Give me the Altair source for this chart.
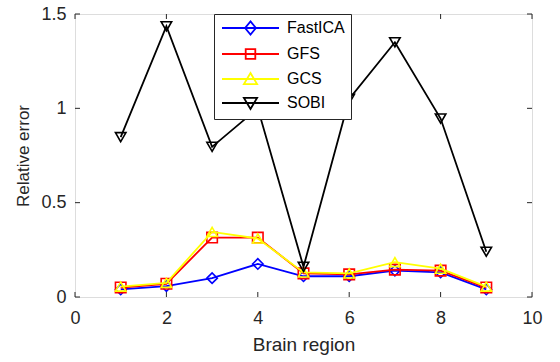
import altair as alt
import pandas as pd

regions = [1, 2, 3, 4, 5, 6, 7, 8, 9]
fastica = [0.04, 0.058, 0.10, 0.175, 0.11, 0.11, 0.14, 0.13, 0.04]
gfs = [0.05, 0.07, 0.315, 0.315, 0.125, 0.12, 0.145, 0.14, 0.05]
gcs = [0.055, 0.075, 0.345, 0.31, 0.13, 0.125, 0.185, 0.15, 0.055]
sobi = [0.847, 1.435, 0.796, 1.0, 0.16, 1.05, 1.35, 0.946, 0.24]

series_names = ["FastICA", "GFS", "GCS", "SOBI"]
series_values = [fastica, gfs, gcs, sobi]
colors = ["#0000FF", "#FF0000", "#FFFF00", "#000000"]
markers = ["diamond", "square", "triangle-up", "triangle-down"]
# legend glyphs: line sample + marker (unit = 6 px, symbol size 144)
legend_shapes = [
    "M-1,0H8.5M3.75,-1.1L4.65,0L3.75,1.1L2.85,0Z",
    "M-1,0H8.5M2.95,-0.8H4.55V0.8H2.95Z",
    "M-1,0H8.5M3.75,-1L4.85,0.85H2.65Z",
    "M-1,0H8.5M3.75,1L4.85,-0.85H2.65Z",
]
x_ticks = [0, 2, 4, 6, 8, 10]
y_ticks = [0, 0.5, 1, 1.5]

W, H = 457, 283
XMAX, YMAX = 10, 1.5
tick_px = 5
ty = tick_px * YMAX / H
tx = tick_px * XMAX / W

rows = []
for name, vals in zip(series_names, series_values):
    for r, v in zip(regions, vals):
        rows.append({"region": r, "value": v, "series": name})
df = pd.DataFrame(rows)

FONT = "Liberation Sans"
TXT = "#262626"
xs = alt.Scale(domain=[0, XMAX], nice=False, zero=False)
ys = alt.Scale(domain=[0, YMAX], nice=False, zero=False)
cs = alt.Scale(domain=series_names, range=colors)

xaxis = alt.Axis(values=x_ticks, ticks=False, domain=False, grid=False, labelPadding=12,
                 labelFontSize=18, labelFont=FONT, labelColor=TXT, title="Brain region",
                 titleFontSize=19, titleFont=FONT, titleFontWeight="normal", titleColor=TXT,
                 titlePadding=8, labelFlush=False, labelExpr="datum.value")
yaxis = alt.Axis(values=y_ticks, ticks=False, domain=False, grid=False, labelPadding=9,
                 labelFontSize=18, labelFont=FONT, labelColor=TXT, title="Relative error",
                 titleFontSize=17, titleFont=FONT, titleFontWeight="normal", titleColor=TXT,
                 titlePadding=8, labelFlush=False, labelExpr="datum.value")

base = alt.Chart(df)
layers = []
for name, col, mk in zip(series_names, colors, markers):
    sub = base.transform_filter(alt.datum.series == name)
    layers.append(sub.mark_line(strokeWidth=1.8, color=col).encode(
        x=alt.X("region:Q", scale=xs, axis=xaxis),
        y=alt.Y("value:Q", scale=ys, axis=yaxis),
    ))
    layers.append(sub.mark_point(filled=False, strokeWidth=1.6, size=110, opacity=1,
                                 color=col, shape=mk).encode(
        x=alt.X("region:Q", scale=xs),
        y=alt.Y("value:Q", scale=ys),
    ))

leg = alt.Legend(title=None, orient="none", legendX=139, legendY=0,
                 symbolSize=144, symbolStrokeWidth=1.8, symbolOpacity=1,
                 symbolFillColor="transparent",
                 labelFont=FONT, labelFontSize=16, labelColor="#000000",
                 labelOffset=51, rowPadding=6, padding=6,
                 strokeColor=TXT, fillColor="white")
legend_layer = base.transform_filter("false").mark_point(filled=False, strokeWidth=1.8).encode(
    x=alt.X("region:Q", scale=xs),
    y=alt.Y("value:Q", scale=ys),
    stroke=alt.Stroke("series:N", scale=cs, legend=leg),
    shape=alt.Shape("series:N", scale=alt.Scale(domain=series_names, range=legend_shapes), legend=leg),
)

bx = pd.DataFrame({"x": x_ticks})
by = pd.DataFrame({"y": y_ticks})
tick_b = alt.Chart(bx).mark_rule(color=TXT, strokeWidth=1).encode(
    x=alt.X("x:Q", scale=xs), y=alt.datum(0), y2=alt.datum(ty))
tick_t = alt.Chart(bx).mark_rule(color=TXT, strokeWidth=1).encode(
    x=alt.X("x:Q", scale=xs), y=alt.datum(YMAX - ty), y2=alt.datum(YMAX))
tick_l = alt.Chart(by).mark_rule(color=TXT, strokeWidth=1).encode(
    y=alt.Y("y:Q", scale=ys), x=alt.datum(0), x2=alt.datum(tx))
tick_r = alt.Chart(by).mark_rule(color=TXT, strokeWidth=1).encode(
    y=alt.Y("y:Q", scale=ys), x=alt.datum(XMAX - tx), x2=alt.datum(XMAX))

chart = alt.layer(tick_b, tick_t, tick_l, tick_r, *layers, legend_layer).properties(
    width=W, height=H, autosize=alt.AutoSizeParams(type="none"),
    padding={"left": 75, "top": 14, "right": 28, "bottom": 65}
).configure_view(stroke=TXT, strokeWidth=1).configure(background="white")

chart.save("out.html", embed_options={"renderer": "svg", "actions": False})
